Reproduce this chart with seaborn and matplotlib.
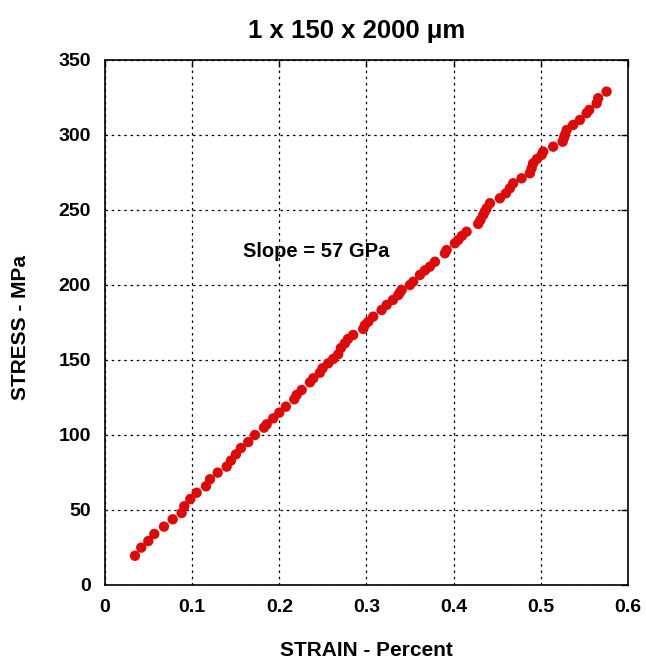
import matplotlib
matplotlib.use("Agg")
import matplotlib.pyplot as plt
import seaborn as sns
import pandas as pd

strain = [0.0344, 0.0416, 0.0497, 0.0566, 0.0677, 0.0777, 0.0880, 0.0910, 0.0979, 0.1052,
          0.1159, 0.1205, 0.1293, 0.1396, 0.1445, 0.1503, 0.1560, 0.1644, 0.1721, 0.1824,
          0.1855, 0.1931, 0.2000, 0.2076, 0.2172, 0.2199, 0.2257, 0.2352, 0.2390, 0.2466,
          0.2497, 0.2562, 0.2619, 0.2676, 0.2707, 0.2753, 0.2788, 0.2848, 0.2963, 0.2983,
          0.3021, 0.3078, 0.3174, 0.3232, 0.3304, 0.3365, 0.3384, 0.3404, 0.3499, 0.3537,
          0.3614, 0.3671, 0.3728, 0.3786, 0.3900, 0.3920, 0.4015, 0.4053, 0.4095, 0.4149,
          0.4282, 0.4308, 0.4340, 0.4359, 0.4379, 0.4417, 0.4531, 0.4600, 0.4646, 0.4684,
          0.4780, 0.4876, 0.4895, 0.4913, 0.4956, 0.5010, 0.5028, 0.5143, 0.5251, 0.5266,
          0.5277, 0.5297, 0.5372, 0.5449, 0.5526, 0.5556, 0.5641, 0.5659, 0.5755]
stress = [19.5, 24.9, 29.3, 34.0, 38.9, 43.8, 48.0, 52.5, 57.3, 61.5,
          65.8, 70.5, 74.9, 78.9, 82.9, 87.1, 91.3, 95.3, 100.0, 104.9,
          107.1, 111.1, 114.9, 118.9, 123.8, 126.7, 130.0, 135.1, 137.8, 141.5,
          144.5, 147.8, 150.7, 153.8, 158.0, 161.1, 164.0, 166.7, 170.7, 173.3,
          175.5, 178.9, 183.3, 186.7, 190.0, 193.3, 195.0, 196.7, 200.0, 202.2,
          206.7, 209.7, 212.2, 215.5, 221.1, 223.3, 227.8, 230.0, 232.7, 235.5,
          240.7, 243.3, 246.7, 249.0, 251.1, 254.5, 257.8, 261.1, 264.5, 267.8,
          271.1, 274.5, 277.8, 281.1, 284.0, 286.7, 288.9, 292.2, 295.5, 298.0,
          300.0, 303.3, 306.7, 310.0, 314.5, 316.7, 321.1, 324.5, 328.9]

x_ticks = [0, 0.1, 0.2, 0.3, 0.4, 0.5, 0.6]
x_tick_labels = ["0", "0.1", "0.2", "0.3", "0.4", "0.5", "0.6"]
y_ticks = [0, 50, 100, 150, 200, 250, 300, 350]
y_tick_labels = ["0", "50", "100", "150", "200", "250", "300", "350"]

title = "1 x 150 x 2000 \u03bcm"
x_label = "STRAIN - Percent"
y_label = "STRESS - MPa"
annotation = "Slope = 57 GPa"

df = pd.DataFrame({"strain": strain, "stress": stress})

sns.set_style("white")
plt.rcParams["font.family"] = ["Liberation Sans", "DejaVu Sans"]
plt.rcParams["text.color"] = "black"
plt.rcParams["axes.labelcolor"] = "black"
plt.rcParams["xtick.color"] = "black"
plt.rcParams["ytick.color"] = "black"

fig = plt.figure(figsize=(6.46, 6.59), dpi=100)
ax = fig.add_axes([0.1625, 0.1123, 0.8095, 0.7967])

sns.scatterplot(data=df, x="strain", y="stress", ax=ax, color="#dc0b0b",
                s=56, edgecolor="none", linewidth=0, zorder=3)

ax.set_xlim(0, 0.6)
ax.set_ylim(0, 350)
ax.set_xticks(x_ticks)
ax.set_xticklabels(x_tick_labels)
ax.set_yticks(y_ticks)
ax.set_yticklabels(y_tick_labels)

ax.grid(True, color="black", linestyle=(0, (2, 3)), linewidth=0.9)
ax.set_axisbelow(True)
for sp in ax.spines.values():
    sp.set_color("black")
    sp.set_linewidth(1.2)
    sp.set_visible(True)

ax.tick_params(direction="in", length=5, width=1, top=True, right=True,
               labelsize=14, colors="black")
ax.tick_params(axis="y", pad=10)
ax.tick_params(axis="x", pad=10)
for lab in ax.get_xticklabels() + ax.get_yticklabels():
    lab.set_fontweight("bold")
    lab.set_color("black")

ax.set_xlabel(x_label, fontsize=15, fontweight="bold", color="black")
ax.set_ylabel(y_label, fontsize=15, fontweight="bold", color="black")
ax.xaxis.set_label_coords(0.5, -0.124)
ax.yaxis.set_label_coords(-0.161, 0.491)
ax.xaxis.label.set_va("center")
ax.yaxis.label.set_va("center")
ax.set_title(title, fontsize=18.5, fontweight="bold", pad=16, color="black", x=0.482)

ax.text(0.158, 222, annotation, fontsize=14.5, fontweight="bold",
        ha="left", va="center", color="black")

fig.savefig("out.png", dpi=100)
